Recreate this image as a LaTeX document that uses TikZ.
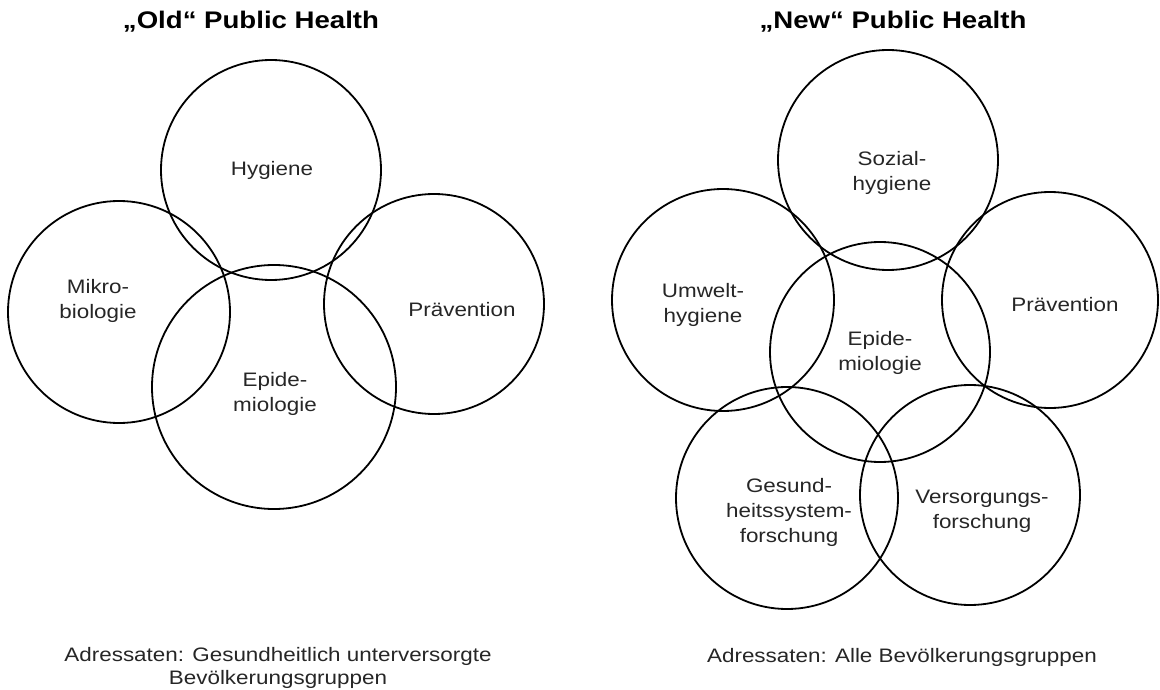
\documentclass[tikz,border=0pt]{standalone}
\usepackage{fontspec}
\setmainfont{Liberation Sans}[FakeStretch=1.15]
\begin{document}
\begin{tikzpicture}[x=1pt,y=-1pt,
  circ/.style={draw=black, line width=1.8pt, circle, inner sep=0pt, minimum size=#1},
  lbl/.style={align=center, font=\fontsize{19.5}{25}\selectfont, text=black!85},
  ttl/.style={font=\bfseries\fontsize{24}{28}\selectfont},
  foot/.style={align=center, font=\fontsize{19.5}{23}\selectfont, text=black!85}]
\useasboundingbox (0,0) rectangle (1160,690);
% Old
\node[ttl] (t1) at (251,22) {„Old“ Public Health};
\node[circ=220pt] (hyg) at (271,170) {};
\node[circ=222pt] (mik) at (119,312) {};
\node[circ=244pt] (epi) at (274,387) {};
\node[circ=220pt] (pra) at (434,304) {};
\node[lbl] (lhyg) at (272,170) {Hygiene};
\node[lbl] (lmik) at (98,301) {Mikro-\\biologie};
\node[lbl] (lpra) at (462,310) {Prävention};
\node[lbl] (lepi) at (275,394) {Epide-\\miologie};
\node[foot] (f1) at (278,668) {Adressaten: Gesundheitlich unterversorgte\\Bevölkerungsgruppen};
% New
\node[ttl] (t2) at (893,22) {„New“ Public Health};
\node[circ=220pt] (soz) at (888,160) {};
\node[circ=222pt] (umw) at (723,300) {};
\node[circ=216pt] (pra2) at (1050,300) {};
\node[circ=220pt] (epi2) at (880,352) {};
\node[circ=222pt] (ges) at (787,498) {};
\node[circ=220pt] (ver) at (970,495) {};
\node[lbl] (lsoz) at (892,173) {Sozial-\\hygiene};
\node[lbl] (lumw) at (703,305) {Umwelt-\\hygiene};
\node[lbl] (lpra2) at (1065,305) {Prävention};
\node[lbl] (lepi2) at (880,353) {Epide-\\miologie};
\node[lbl] (lges) at (789,512) {Gesund-\\heitssystem-\\forschung};
\node[lbl] (lver) at (982,511) {Versorgungs-\\forschung};
\node[foot] (f2) at (902,657) {Adressaten: Alle Bevölkerungsgruppen};
\end{tikzpicture}
\end{document}
